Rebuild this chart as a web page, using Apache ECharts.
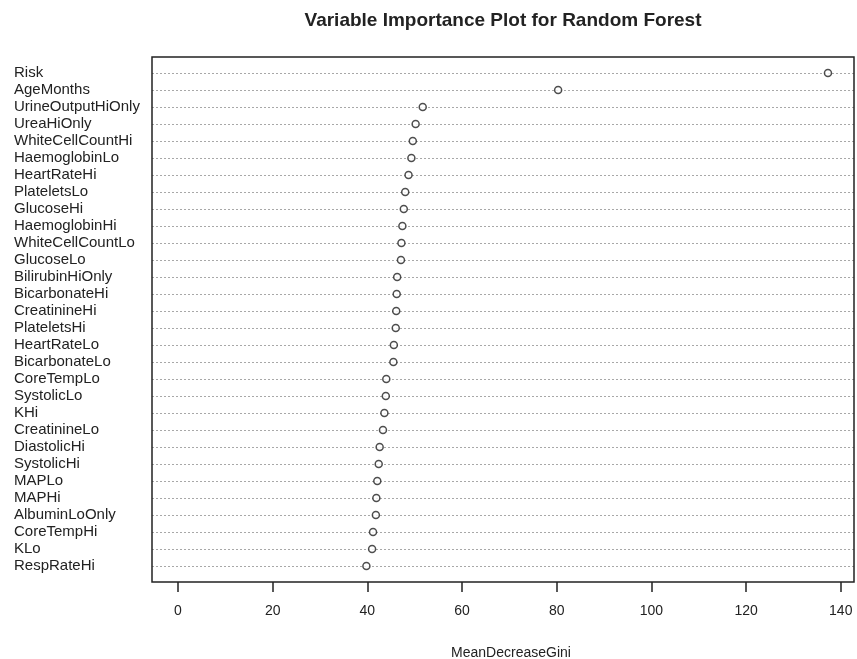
<!DOCTYPE html>
<html>
<head>
<meta charset="utf-8">
<script src="https://cdn.jsdelivr.net/npm/echarts@6/dist/echarts.min.js"></script>
<style>html,body{margin:0;padding:0;background:#fff;}#c{width:857px;height:659px;}</style>
</head>
<body>
<div id="c"></div>
<script>
const categories = ["Risk","AgeMonths","UrineOutputHiOnly","UreaHiOnly","WhiteCellCountHi","HaemoglobinLo","HeartRateHi","PlateletsLo","GlucoseHi","HaemoglobinHi","WhiteCellCountLo","GlucoseLo","BilirubinHiOnly","BicarbonateHi","CreatinineHi","PlateletsHi","HeartRateLo","BicarbonateLo","CoreTempLo","SystolicLo","KHi","CreatinineLo","DiastolicHi","SystolicHi","MAPLo","MAPHi","AlbuminLoOnly","CoreTempHi","KLo","RespRateHi"];
const values = [137.3,80.3,51.7,50.2,49.6,49.3,48.7,48.0,47.7,47.4,47.2,47.1,46.3,46.2,46.1,46.0,45.6,45.5,44.0,43.9,43.6,43.3,42.6,42.4,42.1,41.9,41.8,41.2,41.0,39.8];
const xTicks = [0,20,40,60,80,100,120,140];
const titleText = "Variable Importance Plot for Random Forest";
const xName = "MeanDecreaseGini";

const chart = echarts.init(document.getElementById('c'));
const font = "'Liberation Sans', Arial, sans-serif";
chart.setOption({
  animation: false,
  backgroundColor: '#fff',
  title: [
    {text: titleText, left: 503, top: 11, textAlign: 'center', padding: 0,
     textStyle: {fontFamily: font, fontSize: 19, fontWeight: 'bold', color: '#222'}},
    {text: xName, left: 511, top: 646, textAlign: 'center', padding: 0,
     textStyle: {fontFamily: font, fontSize: 14, fontWeight: 'normal', color: '#222'}}
  ],
  grid: {left: 152, right: 3, top: 73, bottom: 93, containLabel: false},
  graphic: [{type: 'rect', shape: {x: 152, y: 57, width: 702, height: 525},
    style: {fill: 'none', stroke: '#222', lineWidth: 1.5}, z: 10}],
  xAxis: {
    type: 'value', min: -5.49, max: 142.8, offset: 16,
    axisLine: {show: false},
    splitLine: {show: false},
    axisTick: {show: true, length: 10, customValues: xTicks, lineStyle: {color: '#222', width: 1.5}},
    axisLabel: {customValues: xTicks, margin: 22, fontFamily: font, fontSize: 14, color: '#222'}
  },
  yAxis: {
    type: 'category', data: categories, inverse: true, boundaryGap: false,
    axisLine: {show: false}, axisTick: {show: false},
    splitLine: {show: true, interval: 0, lineStyle: {color: '#a8a8a8', type: [2, 2], width: 1}},
    axisLabel: {interval: 0, align: 'left', margin: 138, fontFamily: font, fontSize: 15, color: '#222'}
  },
  series: [{
    type: 'scatter',
    data: values.map((v, i) => [v, categories[i]]),
    symbol: 'circle', symbolSize: 7,
    itemStyle: {color: '#fff', borderColor: '#222', borderWidth: 1.5},
    z: 5
  }]
});
</script>
</body>
</html>
